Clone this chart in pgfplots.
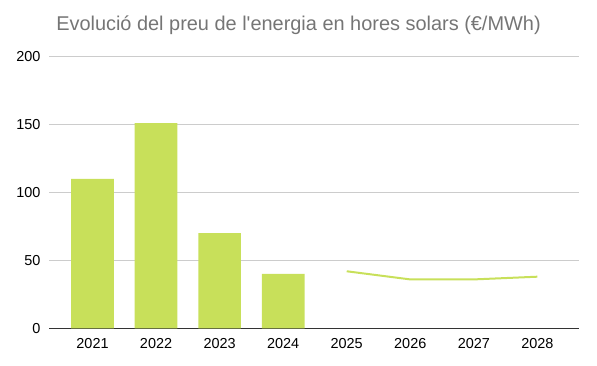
\documentclass[border=0pt]{standalone}
\usepackage{fontspec}
\setmainfont{Liberation Sans}
\newfontfamily\titlefont{Liberation Sans}[Ligatures=ResetAll]
\usepackage{pgfplots}
\pgfplotsset{compat=1.18}
\definecolor{bargreen}{HTML}{C8E05A}
\definecolor{gridgray}{HTML}{CCCCCC}
\definecolor{titlegray}{HTML}{757575}
\definecolor{axisdark}{HTML}{333333}
\begin{document}
\begin{tikzpicture}[x=1bp,y=1bp]
\path[use as bounding box] (0,0) rectangle (597,365);
\node[text=titlegray, font=\titlefont\fontsize{20}{22}\selectfont, inner sep=0pt] at (298.5,339.5) {Evolució del preu de l'energia en hores solars (€/MWh)};
\begin{axis}[
  at={(49.3bp,36.7bp)}, anchor=south west,
  scale only axis, width=530bp, height=271.6bp,
  xmin=-0.68, xmax=7.66, ymin=0, ymax=200,
  axis x line*=bottom, axis y line*=left,
  y axis line style={draw=none},
  x axis line style={draw=axisdark, line width=0.9bp, -},
  ytick={0,50,100,150,200},
  xtick={0,1,2,3,4,5,6,7},
  xticklabels={2021,2022,2023,2024,2025,2026,2027,2028},
  major tick length=0pt,
  ymajorgrids, grid style={gridgray, line width=0.8bp},
  /pgf/number format/assume math mode=true,
  tick label style={font=\fontsize{14.5}{16}\selectfont, text=black, inner sep=0pt},
  yticklabel style={anchor=east, xshift=-8.6bp},
  xticklabel style={anchor=north, yshift=-10bp},
]
\addplot[ybar, bar width=42.7bp, fill=bargreen, draw=none] coordinates {(0,110) (1,151) (2,70) (3,40)};
\addplot[bargreen, line width=2bp, no marks] coordinates {(4,42) (5,36) (6,36) (7,38)};
\end{axis}
\end{tikzpicture}
\end{document}
